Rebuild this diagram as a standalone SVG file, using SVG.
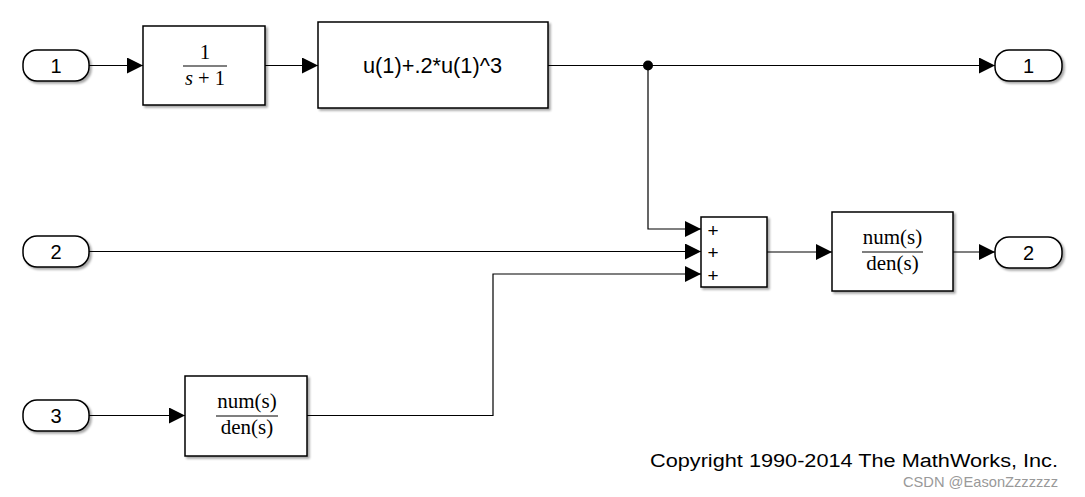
<svg xmlns="http://www.w3.org/2000/svg" width="1085" height="497" viewBox="0 0 1085 497">
<defs>
<filter id="sh" x="-10%" y="-10%" width="130%" height="140%">
<feDropShadow dx="2" dy="2" stdDeviation="1.2" flood-color="#000" flood-opacity="0.35"/>
</filter>
<marker id="arr" markerUnits="userSpaceOnUse" viewBox="0 0 16 16" refX="16" refY="8" markerWidth="16" markerHeight="16" orient="auto">
<path d="M0,0 L16,8 L0,16 z" fill="#000"/>
</marker>
</defs>
<style>
.blk{fill:#fff;stroke:#000;stroke-width:1.5;filter:url(#sh)}
.port{fill:#fff;stroke:#000;stroke-width:1.5;filter:url(#sh)}
.w{fill:none;stroke:#000;stroke-width:1.2;marker-end:url(#arr)}
.sans{font-family:"Liberation Sans",Arial,sans-serif;fill:#000}
.ser{font-family:"Liberation Serif","Times New Roman",serif;fill:#000}
.pn{font-size:20px;text-anchor:middle}
.fr{font-size:21px;text-anchor:middle}
.pl{font-size:19px;text-anchor:middle}
</style>
<rect width="1085" height="497" fill="#fff"/>
<g id="connectors">
<path class="w" d="M89,65.5 H143"/>
<path class="w" d="M265,65.5 H318"/>
<path class="w" d="M548,65.5 H995"/>
<path class="w" d="M648,65.5 V229 H701"/>
<path class="w" d="M89,251.5 H701"/>
<path class="w" d="M307,415.5 H493 V274 H701"/>
<path class="w" d="M767,252 H832"/>
<path class="w" d="M953,252 H995"/>
<path class="w" d="M89,415.5 H185"/>
<circle cx="648" cy="65.5" r="5" fill="#000"/>
</g>
<g id="in1"><rect class="port" x="23" y="50" width="66" height="31" rx="14"/><text class="sans pn" x="56" y="72.5">1</text></g>
<g id="in2"><rect class="port" x="23" y="236" width="66" height="31" rx="14"/><text class="sans pn" x="56" y="258.5">2</text></g>
<g id="in3"><rect class="port" x="23" y="400" width="66" height="31" rx="14"/><text class="sans pn" x="56" y="422.5">3</text></g>
<g id="out1"><rect class="port" x="995" y="50" width="67" height="31" rx="14"/><text class="sans pn" x="1028.5" y="72.5">1</text></g>
<g id="out2"><rect class="port" x="995" y="237" width="67" height="31" rx="14"/><text class="sans pn" x="1028.5" y="259.5">2</text></g>
<g id="tf1">
<rect class="blk" x="143" y="26" width="122" height="79"/>
<text class="ser" x="205" y="59" font-size="21" text-anchor="middle">1</text>
<line x1="183" y1="66" x2="227" y2="66" stroke="#000" stroke-width="1.2"/>
<text class="ser" x="205" y="85" font-size="20.5" text-anchor="middle"><tspan font-style="italic">s</tspan> + 1</text>
</g>
<g id="fcn">
<rect class="blk" x="318" y="22" width="230" height="86"/>
<text class="sans" x="363" y="73" font-size="21.5" textLength="139" lengthAdjust="spacingAndGlyphs">u(1)+.2*u(1)^3</text>
</g>
<g id="sum">
<rect class="blk" x="701" y="217" width="66" height="70"/>
<text class="sans pl" x="713" y="237">+</text>
<text class="sans pl" x="713" y="259">+</text>
<text class="sans pl" x="713" y="282">+</text>
</g>
<g id="tf2">
<rect class="blk" x="832" y="212" width="121" height="79"/>
<text class="ser fr" x="892.5" y="244">num(s)</text>
<line x1="862" y1="252" x2="923" y2="252" stroke="#000" stroke-width="1.2"/>
<text class="ser fr" x="892.5" y="270">den(s)</text>
</g>
<g id="tf3">
<rect class="blk" x="185" y="376" width="122" height="80"/>
<text class="ser fr" x="247" y="408">num(s)</text>
<line x1="216" y1="416" x2="278" y2="416" stroke="#000" stroke-width="1.2"/>
<text class="ser fr" x="247" y="434">den(s)</text>
</g>
<text class="sans" x="650" y="467" font-size="18.8" textLength="408" lengthAdjust="spacingAndGlyphs">Copyright 1990-2014 The MathWorks, Inc.</text>
<text class="sans" x="903" y="487" font-size="14.5" style="fill:#999" textLength="155" lengthAdjust="spacingAndGlyphs">CSDN @EasonZzzzzzz</text>
</svg>
